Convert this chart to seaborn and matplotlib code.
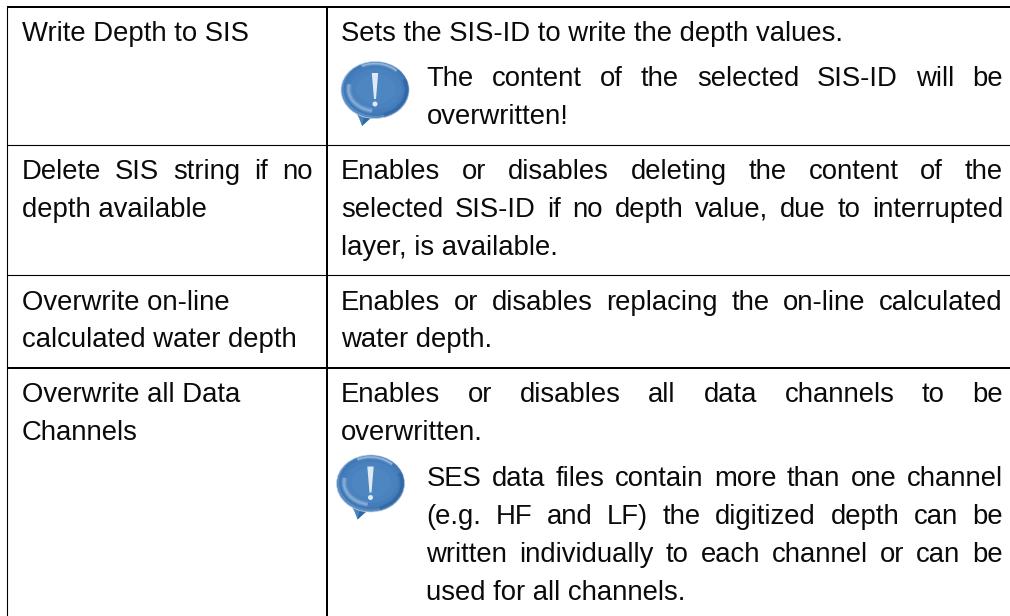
import matplotlib
matplotlib.use("Agg")
import matplotlib.pyplot as plt
import seaborn as sns
from matplotlib.patches import Ellipse, Arc, Polygon

# table text: (text, baseline y, justified)
left_lines = [
    ("Write Depth to SIS", 41, False),
    ("Delete SIS string if no", 179, True),
    ("depth available", 217, False),
    ("Overwrite on-line", 310, False),
    ("calculated water depth", 347, False),
    ("Overwrite all Data", 402, False),
    ("Channels", 440, False),
]
right_lines = [
    ("Sets the SIS-ID to write the depth values.", 41, False),
    ("Enables or disables deleting the content of the", 179, True),
    ("selected SIS-ID if no depth value, due to interrupted", 217, True),
    ("layer, is available.", 255, False),
    ("Enables or disables replacing the on-line calculated", 310, True),
    ("water depth.", 347, False),
    ("Enables or disables all data channels to be", 402, True),
    ("overwritten.", 440, False),
]
note_lines = [
    ("The content of the selected SIS-ID will be", 86, True),
    ("overwritten!", 124, False),
    ("SES data files contain more than one channel", 486, True),
    ("(e.g. HF and LF) the digitized depth can be", 524, True),
    ("written individually to each channel or can be", 562, True),
    ("used for all channels.", 600, False),
]

# rules: y or x, line width
h_rules = [(6.5, 2.0), (144.8, 1.1), (274.8, 1.1), (367.8, 2.0)]
v_rules = [(6.8, 1.1), (327, 2.0)]
icon_centers = [(375, 90), (370.5, 483.5)]

sns.set_theme(style="white")
plt.rcParams["font.family"] = ["Liberation Sans", "DejaVu Sans"]

fig, ax = plt.subplots(figsize=(10.1, 6.16), dpi=100)
fig.subplots_adjust(0, 0, 1, 1)
ax.set_xlim(0, 1010)
ax.set_ylim(616, 0)
ax.axis("off")

for y, lw in h_rules:
    sns.lineplot(x=[7, 1010], y=[y, y], color="black", linewidth=lw * 0.72,
                 estimator=None, sort=False, ax=ax)
for x, lw in v_rules:
    line = sns.lineplot(x=[x, x], y=[7, 616], color="black", linewidth=lw * 0.72,
                        estimator=None, sort=False, ax=ax)
for line in ax.get_lines():
    line.set_solid_capstyle("butt")

renderer = fig.canvas.get_renderer()
font_size = 19.85
text_color = "#0a0a0a"


def draw_lines(lines, x0, x1):
    for text, y, justified in lines:
        if not justified:
            ax.text(x0, y, text, fontsize=font_size, color=text_color, va="baseline")
            continue
        words = [ax.text(x0, y, w, fontsize=font_size, color=text_color, va="baseline")
                 for w in text.split(" ")]
        widths = [w.get_window_extent(renderer).width for w in words]
        gap = (x1 - x0 - sum(widths)) / (len(words) - 1)
        x = x0
        for w, width in zip(words, widths):
            w.set_x(x)
            x += width + gap


def draw_icon(cx, cy):
    # tail first, then bubble body in layers
    ax.add_patch(Polygon([(cx - 20, cy + 21), (cx + 3, cy + 22), (cx - 13, cy + 36), (cx - 16, cy + 28)],
                         closed=True, fc="#4a82bd", ec="none", zorder=3))
    ax.add_patch(Polygon([(cx - 9, cy + 19), (cx - 1, cy + 24), (cx - 13, cy + 36)],
                         closed=True, fc="#2f689f", ec="none", zorder=3))
    ax.add_patch(Ellipse((cx, cy), 68, 57, fc="#5b8dc2", ec="#c3d6ea", lw=0.5, zorder=3))
    layers = [(65, 54, "#3f78b6"), (60, 49, "#447dba"), (52, 41, "#4a82bf"), (40, 30, "#4e86c2")]
    for w, h, color in layers:
        ax.add_patch(Ellipse((cx + 1, cy - 1), w, h, fc=color, ec="none", zorder=3))
    # soft highlights and shade
    for lw, alpha in [(4.0, 0.2), (2.4, 0.3), (1.2, 0.35)]:
        ax.add_patch(Arc((cx + 1, cy - 1), 55, 44, theta1=100, theta2=190, color="#a9c9e8",
                         lw=lw, alpha=alpha, zorder=4))
        ax.add_patch(Arc((cx, cy - 1), 62, 51, theta1=240, theta2=320, color="#c6daee",
                         lw=lw * 0.7, alpha=alpha, zorder=4))
        ax.add_patch(Arc((cx, cy), 63, 52, theta1=340, theta2=70, color="#2a5f98",
                         lw=lw, alpha=alpha, zorder=4))
    ax.add_patch(Polygon([(cx - 3.2, cy - 17), (cx + 3.2, cy - 17), (cx + 1, cy + 9), (cx - 1, cy + 9)],
                         closed=True, fc="#dfeaf5", ec="none", zorder=5))
    ax.add_patch(Ellipse((cx, cy + 14), 5, 5, fc="#dfeaf5", ec="none", zorder=5))


draw_lines(left_lines, 21.6, 313)
draw_lines(right_lines, 341, 1003)
draw_lines(note_lines, 426.5, 1003)
for cx, cy in icon_centers:
    draw_icon(cx, cy)

fig.savefig("out.png", dpi=100)
